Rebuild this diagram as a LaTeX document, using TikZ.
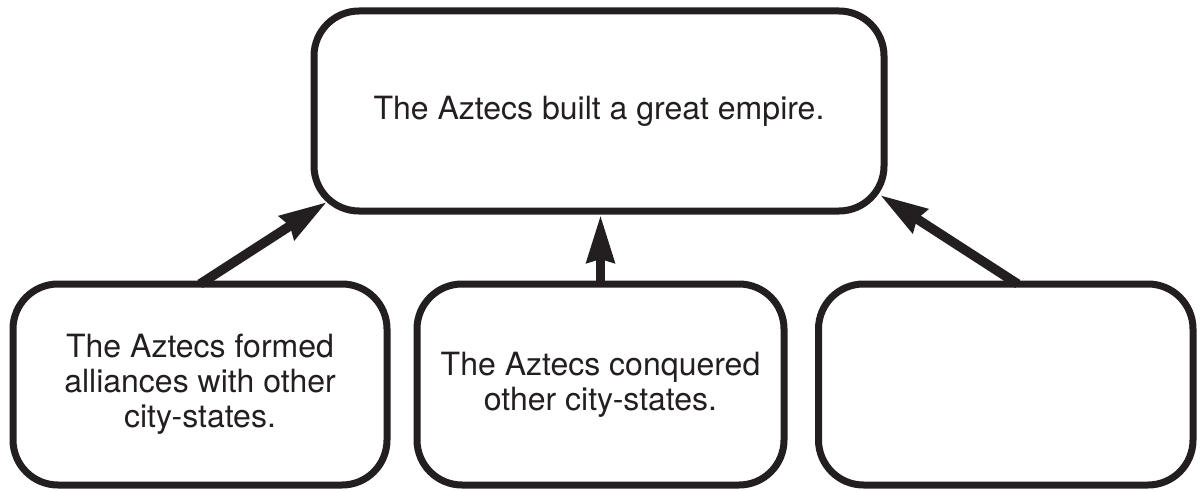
\documentclass[tikz,border=0pt]{standalone}
\usepackage{fontspec}
\setmainfont{TeX Gyre Heros}
\usetikzlibrary{arrows.meta,calc}
\definecolor{ink}{HTML}{231F20}
\tikzset{
  box/.style={draw=ink, line width=7pt, rounded corners=45pt, inner sep=0pt,
    outer sep=0pt, align=center, text=ink,
    font=\fontsize{32}{35}\selectfont},
  conn/.style={draw=ink, line width=9.5pt,
    -{Stealth[length=47pt,width=27pt,inset=3pt]}, ink}
}
\begin{document}
\begin{tikzpicture}[x=1pt,y=1pt]
\useasboundingbox[fill=white] (0,0) rectangle (1202,491);
\node[box, minimum width=570pt, minimum height=200pt] (top) at (599,380)
  {The Aztecs built a great empire.};
\node[box, minimum width=374pt, minimum height=201pt] (left) at (200,106.5)
  {The Aztecs formed\\alliances with other\\city-states.};
\node[box, minimum width=367pt, minimum height=201pt] (mid) at (600.5,106.5)
  {The Aztecs conquered\\other city-states.};
\node[box, minimum width=374.5pt, minimum height=201pt] (right) at (1005.75,106.5) {};
\coordinate (tipL) at ($(top.south west)+(13,9)$);
\coordinate (tipR) at ($(top.south east)+(-4,16)$);
\coordinate (tipM) at ($(mid.north |- top.south)+(0,-4)$);
\coordinate (startR) at ($(right.north)+(12,0)$);
\draw[conn] (left.north) -- (tipL);
\draw[conn] (mid.north) -- (tipM);
\draw[conn] (startR) -- (tipR);
\end{tikzpicture}
\end{document}
